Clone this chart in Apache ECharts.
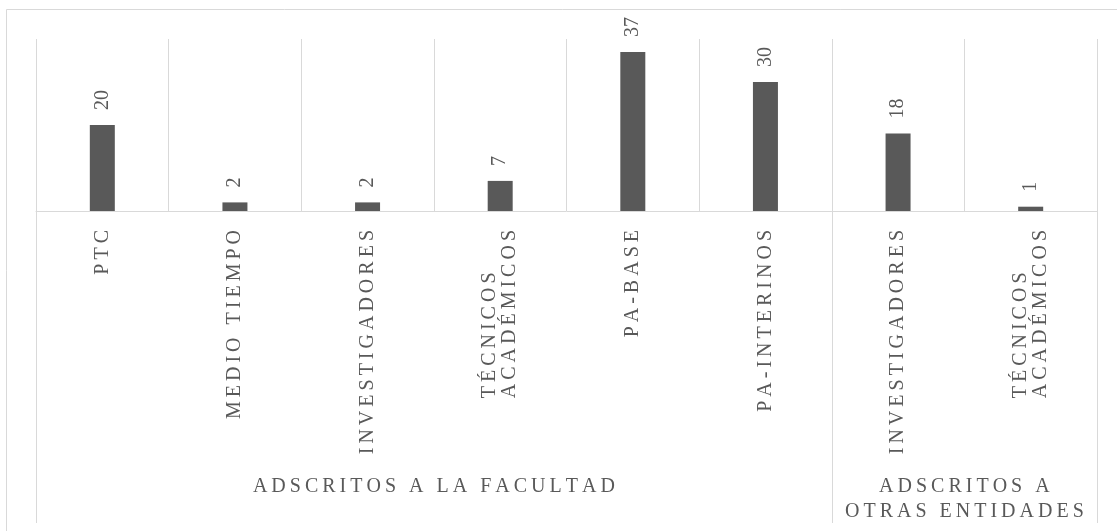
<!DOCTYPE html>
<html>
<head>
<meta charset="utf-8">
<script src="https://cdn.jsdelivr.net/npm/echarts@6/dist/echarts.min.js"></script>
<style>
html,body{margin:0;padding:0;background:#fff;}
#c{width:1117px;height:531px;}
</style>
</head>
<body>
<div id="c"></div>
<script>
var categories = ['PTC', 'MEDIO TIEMPO', 'INVESTIGADORES', 'TÉCNICOS\nACADÉMICOS', 'PA-BASE', 'PA-INTERINOS', 'INVESTIGADORES', 'TÉCNICOS\nACADÉMICOS'];
var values = [20, 2, 2, 7, 37, 30, 18, 1];
var groups = [
  { name: 'ADSCRITOS A LA FACULTAD', start: 0, end: 5 },
  { name: 'ADSCRITOS A\nOTRAS ENTIDADES', start: 6, end: 7 }
];
var groupBoundaries = [0, 6];

var FONT = '"Liberation Serif", "Times New Roman", serif';
var TXT = '#595959';
var LINE = '#d9d9d9';
var SP = '\u2009';
function spaced(s) { return s.split('').join(SP); }

var chart = echarts.init(document.getElementById('c'));
var option = {
  animation: false,
  backgroundColor: '#fff',
  grid: { left: 36, right: 20, top: 39, bottom: 320, containLabel: false },
  xAxis: {
    type: 'category',
    data: categories,
    axisLine: { show: true, lineStyle: { color: LINE, width: 1 } },
    axisTick: {
      show: true,
      length: 312,
      interval: function (idx) { return groupBoundaries.indexOf(idx) >= 0; },
      lineStyle: { color: LINE, width: 1 }
    },
    splitLine: { show: true, interval: 0, lineStyle: { color: LINE, width: 1 } },
    axisLabel: {
      interval: 0,
      rotate: 90,
      margin: 19,
      color: TXT,
      fontFamily: FONT,
      fontSize: 20,
      lineHeight: 20,
      formatter: function (v) {
        return v.split('\n').map(function (l) { return '{l|' + spaced(l) + '}'; }).join('\n');
      },
      rich: {
        l: { align: 'left', color: TXT, fontFamily: FONT, fontSize: 20, lineHeight: 20 }
      }
    }
  },
  yAxis: {
    type: 'value',
    min: 0,
    max: 40,
    show: false,
    splitLine: { show: false }
  },
  series: [{
    type: 'bar',
    data: values,
    barWidth: 25,
    itemStyle: { color: '#595959' },
    label: {
      show: true,
      position: 'top',
      rotate: 90,
      align: 'left',
      verticalAlign: 'middle',
      distance: 15,
      color: TXT,
      fontFamily: FONT,
      fontSize: 20
    }
  }],
  graphic: [{
    type: 'rect',
    shape: { x: 6.5, y: 9.5, width: 1200, height: 600 },
    style: { fill: 'none', stroke: LINE, lineWidth: 1 },
    silent: true
  }]
};
chart.setOption(option);

var c0 = chart.convertToPixel({ xAxisIndex: 0 }, 0);
var c1 = chart.convertToPixel({ xAxisIndex: 0 }, 1);
var band = c1 - c0;
var texts = groups.map(function (g) {
  var xs = chart.convertToPixel({ xAxisIndex: 0 }, g.start) - band / 2;
  var xe = chart.convertToPixel({ xAxisIndex: 0 }, g.end) + band / 2;
  return {
    type: 'text',
    x: (xs + xe) / 2,
    y: 474,
    style: {
      text: g.name.split('\n').map(spaced).join('\n'),
      fill: TXT,
      font: '20px ' + FONT,
      lineHeight: 25,
      align: 'center',
      verticalAlign: 'top'
    },
    silent: true
  };
});
chart.setOption({ graphic: option.graphic.concat(texts) });
</script>
</body>
</html>
